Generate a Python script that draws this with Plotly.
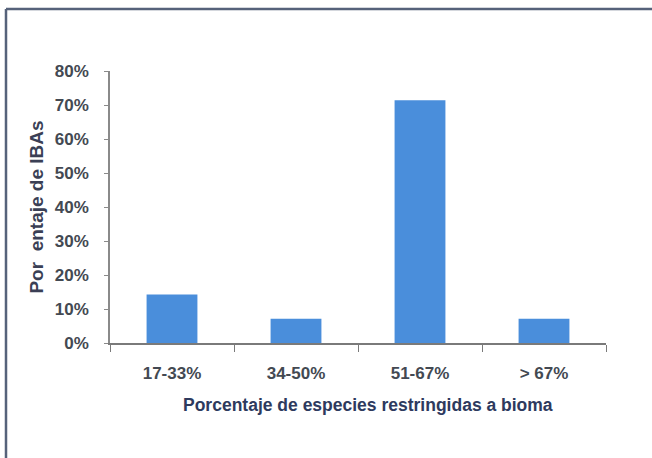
import plotly.graph_objects as go

# Share of IBAs by percentage of biome-restricted species
categories = ["17-33%", "34-50%", "51-67%", "> 67%"]
iba_share = [0.143, 0.071, 0.714, 0.071]
y_ticks = [0, 0.1, 0.2, 0.3, 0.4, 0.5, 0.6, 0.7, 0.8]
y_tick_labels = ["0%", "10%", "20%", "30%", "40%", "50%", "60%", "70%", "80%"]

font_family = "Liberation Sans, Arial, sans-serif"
frame_color = "#56627a"
tick_color = "#434952"

fig = go.Figure(
    go.Bar(
        x=categories,
        y=iba_share,
        marker=dict(color="#4a8edb", line=dict(width=0)),
        width=0.41,
    )
)

fig.update_layout(
    width=652,
    height=458,
    margin=dict(l=110, r=46, t=71, b=115),
    paper_bgcolor="white",
    plot_bgcolor="white",
    showlegend=False,
    font=dict(family=font_family, color=tick_color, size=17),
)

fig.update_xaxes(
    type="category",
    showline=True,
    linecolor="#7a7a7a",
    linewidth=1.5,
    ticks="outside",
    tickson="boundaries",
    ticklen=7,
    tickcolor="#7a7a7a",
    ticklabelstandoff=14,
    showgrid=False,
    tickfont=dict(size=17, color=tick_color, weight="bold"),
)

fig.update_yaxes(
    range=[0, 0.8],
    tickvals=y_ticks,
    ticktext=y_tick_labels,
    showline=True,
    linecolor="#8a8a8a",
    linewidth=1.5,
    ticks="outside",
    ticklen=4,
    tickcolor="#8a8a8a",
    ticklabelstandoff=12,
    showgrid=False,
    zeroline=False,
    tickfont=dict(size=17, color=tick_color, weight="bold"),
    title=dict(
        text="<b>Por  entaje de IBAs</b>",
        font=dict(size=19, color="#3a3f55"),
        standoff=6,
    ),
)

# X-axis title, placed below the category labels
fig.add_annotation(
    text="<b>Porcentaje de especies restringidas a bioma</b>",
    xref="paper", yref="paper",
    x=(368 - 110) / 496, y=(343 - 405) / 272,
    xanchor="center", yanchor="middle",
    showarrow=False,
    font=dict(size=17.5, color="#2e3a5e"),
)

# Frame lines along the top and left edges of the figure
fig.add_shape(type="line", xref="paper", yref="paper",
              x0=(6 - 110) / 496, x1=(660 - 110) / 496,
              y0=(343 - 9) / 272, y1=(343 - 9) / 272,
              line=dict(color=frame_color, width=2.5))
fig.add_shape(type="line", xref="paper", yref="paper",
              x0=(6 - 110) / 496, x1=(6 - 110) / 496,
              y0=(343 - 9) / 272, y1=(343 - 470) / 272,
              line=dict(color=frame_color, width=2.5))

fig.write_html("out.html")
